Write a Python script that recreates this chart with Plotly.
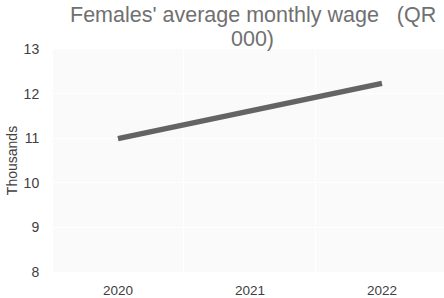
import plotly.graph_objects as go

years = ["2020", "2021", "2022"]
wages = [10.99, 11.61, 12.23]
y_ticks = [8, 9, 10, 11, 12, 13]
title_lines = ["Females' average monthly wage   (QR", "000)"]

xpos = list(range(len(years)))

fig = go.Figure()
fig.add_trace(go.Scatter(
    x=xpos, y=wages, mode="lines",
    line=dict(color="#646464", width=5.5),
    hoverinfo="skip",
))

fig.update_layout(
    width=444, height=298,
    margin=dict(l=53, r=0, t=49, b=26, autoexpand=False),
    paper_bgcolor="white",
    plot_bgcolor="#fafafa",
    showlegend=False,
    font=dict(family="Liberation Sans, Arial, sans-serif", size=13, color="#404040"),
)
for line_text, ypos in zip(title_lines, [1.152, 1.045]):
    fig.add_annotation(
        text=line_text, xref="paper", yref="paper",
        x=0.5115, y=ypos, xanchor="center", yanchor="middle",
        showarrow=False, align="center",
        font=dict(size=21.5, color="#707070"),
    )
fig.update_xaxes(
    range=[-0.492, 2.47], automargin=False,
    tickvals=xpos, ticktext=years,
    showgrid=False, zeroline=False, showline=False,
    ticks="outside", ticklen=6, tickcolor="rgba(0,0,0,0)",
    minor=dict(tickvals=[-0.5, 0.5, 1.5, 2.5], showgrid=True, gridcolor="white", gridwidth=1, ticks=""),
    tickfont=dict(size=13.5, color="#404040"),
)
fig.update_yaxes(
    range=[8, 13], automargin=False,
    tickvals=y_ticks,
    showgrid=True, gridcolor="white", gridwidth=1,
    zeroline=False, showline=False,
    ticks="outside", ticklen=10, tickcolor="rgba(0,0,0,0)",
    title=dict(text="Thousands", font=dict(size=14, color="#404040"), standoff=2),
    tickfont=dict(size=14, color="#404040"),
)

fig.write_html("out.html", config={"displayModeBar": False},
               post_script="document.body.style.margin='0';document.body.style.padding='0';")
